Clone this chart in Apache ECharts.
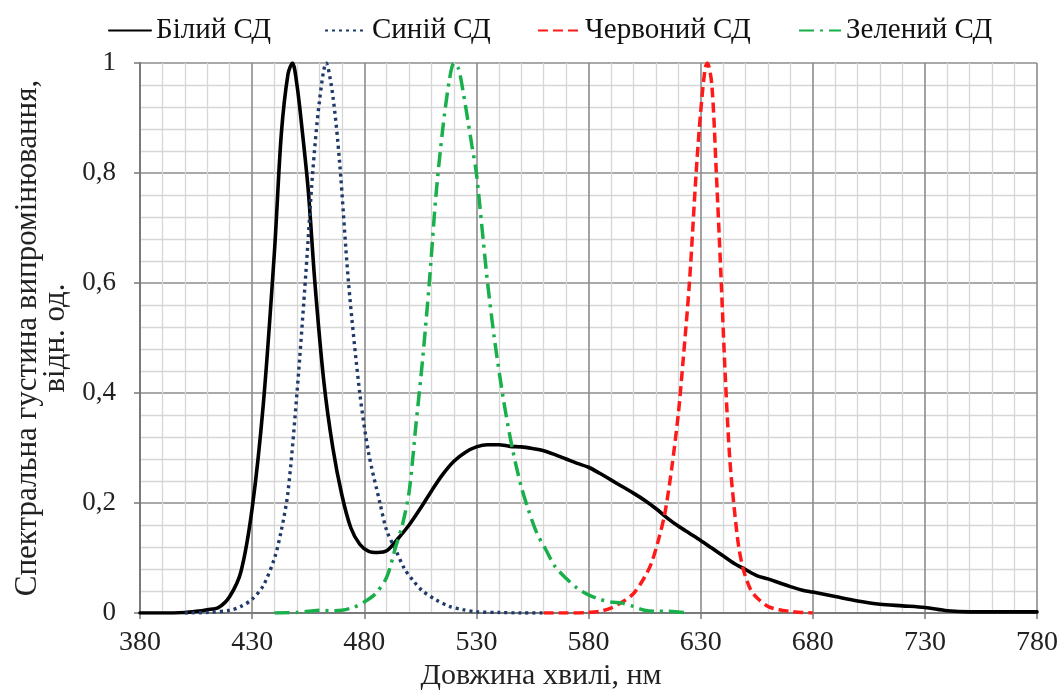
<!DOCTYPE html>
<html>
<head>
<meta charset="utf-8">
<style>
  html, body { margin: 0; padding: 0; background: #fff; }
  #chart { width: 1061px; height: 691px; }
</style>
<script src="https://cdn.jsdelivr.net/npm/echarts@6/dist/echarts.min.js"></script>
</head>
<body>
<div id="chart"></div>
<script>
// Spectral power density of LEDs, relative units, vs wavelength (nm)
const seriesNames = ['Білий СД', 'Синій СД', 'Червоний СД', 'Зелений СД'];

const whiteNm = [380, 390, 400, 405, 410, 415, 420, 425, 430, 435, 440, 443, 446, 448, 450, 452, 455, 458, 462, 466, 470, 474, 478, 482, 486, 490, 495, 500, 505, 510, 515, 520, 525, 530, 535, 540, 545, 550, 555, 560, 565, 570, 575, 580, 585, 590, 595, 600, 605, 610, 615, 620, 625, 630, 635, 640, 645, 650, 655, 660, 665, 670, 675, 680, 690, 700, 710, 720, 730, 740, 750, 760, 770, 780];
const whiteVal = [0, 0, 0.001, 0.003, 0.006, 0.01, 0.03, 0.075, 0.19, 0.38, 0.66, 0.87, 0.98, 1.0, 0.96, 0.89, 0.77, 0.6, 0.42, 0.3, 0.215, 0.155, 0.125, 0.112, 0.11, 0.113, 0.135, 0.16, 0.19, 0.222, 0.252, 0.276, 0.292, 0.302, 0.306, 0.306, 0.303, 0.302, 0.299, 0.295, 0.288, 0.28, 0.272, 0.265, 0.254, 0.242, 0.23, 0.218, 0.205, 0.19, 0.173, 0.158, 0.145, 0.132, 0.118, 0.104, 0.09, 0.079, 0.068, 0.062, 0.055, 0.048, 0.042, 0.038, 0.03, 0.022, 0.016, 0.013, 0.01, 0.004, 0.002, 0.002, 0.002, 0.002];

const blueNm = [400, 410, 420, 425, 430, 435, 440, 443, 446, 450, 454, 457, 460, 463, 466, 469, 473, 478, 482, 487, 490, 494, 498, 502, 506, 512, 518, 524, 530, 540, 550, 560];
const blueVal = [0, 0.001, 0.005, 0.012, 0.025, 0.05, 0.1, 0.15, 0.22, 0.4, 0.62, 0.8, 0.93, 1.0, 0.94, 0.82, 0.6, 0.4, 0.29, 0.2, 0.15, 0.115, 0.08, 0.058, 0.04, 0.024, 0.012, 0.006, 0.002, 0.001, 0, 0];

const redNm = [560, 570, 580, 585, 590, 595, 600, 605, 608, 611, 614, 617, 620, 622, 625, 628, 630, 632, 633, 635, 637, 639, 641, 643, 645, 647, 649, 652, 655, 660, 665, 670, 675, 680];
const redVal = [0, 0, 0.001, 0.003, 0.009, 0.02, 0.035, 0.065, 0.09, 0.13, 0.18, 0.26, 0.36, 0.45, 0.6, 0.8, 0.91, 0.99, 1.0, 0.96, 0.8, 0.62, 0.43, 0.28, 0.19, 0.12, 0.08, 0.045, 0.028, 0.012, 0.006, 0.003, 0.001, 0];

const greenNm = [440, 450, 455, 460, 465, 470, 475, 480, 485, 490, 494, 497, 500, 503, 506, 509, 512, 515, 518, 520, 522, 524, 528, 530, 533, 535, 538, 542, 546, 550, 553, 557, 561, 565, 570, 575, 580, 585, 590, 595, 600, 605, 610, 615, 620, 625];
const greenVal = [0, 0.001, 0.003, 0.005, 0.004, 0.005, 0.01, 0.02, 0.035, 0.065, 0.12, 0.16, 0.22, 0.34, 0.46, 0.6, 0.76, 0.88, 0.97, 1.0, 0.99, 0.95, 0.85, 0.8, 0.68, 0.6, 0.5, 0.39, 0.3, 0.23, 0.19, 0.145, 0.115, 0.085, 0.063, 0.045, 0.033, 0.025, 0.02, 0.018, 0.012, 0.005, 0.003, 0.003, 0.002, 0];

const xTitle = 'Довжина хвилі, нм';
const yTitle = 'Спектральна густина випромінювання,\nвідн. од.';

const pairs = (xs, ys) => xs.map((x, i) => [x, ys[i]]);
const FONT = '"Liberation Serif", "Times New Roman", serif';

const chart = echarts.init(document.getElementById('chart'), null, { renderer: 'canvas' });

function lineSeries(name, xs, ys, color, width, dash, cap) {
  return {
    name: name,
    type: 'line',
    data: pairs(xs, ys),
    symbol: 'none',
    showSymbol: false,
    smooth: 0.3,
    clip: true,
    lineStyle: { color: color, width: width, type: dash, cap: cap || 'butt' },
    itemStyle: { color: color },
    emphasis: { disabled: true },
    animation: false
  };
}

// one legend block per series so each entry sits at its own spot in the header
const legendLefts = [103, 319, 532, 793];
const legends = seriesNames.map((name, i) => ({
  top: 11,
  left: legendLefts[i],
  itemWidth: 42,
  itemHeight: 14,
  selectedMode: false,
  itemStyle: { color: 'rgba(0,0,0,0)', borderWidth: 0, opacity: 0 },
  textStyle: { fontFamily: FONT, fontSize: 29, color: '#111' },
  data: [name]
}));

chart.setOption({
  backgroundColor: '#ffffff',
  animation: false,
  textStyle: { fontFamily: FONT },
  legend: legends,
  grid: { left: 140, right: 21, top: 63, bottom: 78, containLabel: false },
  xAxis: {
    type: 'value',
    min: 380,
    max: 780,
    interval: 50,
    axisLine: { show: true, onZero: false, lineStyle: { color: '#7a7a7a', width: 2 } },
    axisTick: { show: true, inside: false, length: 6, lineStyle: { color: '#7a7a7a', width: 1.5 } },
    minorTick: { show: false, splitNumber: 5 },
    axisLabel: { fontFamily: FONT, fontSize: 28, color: '#222', margin: 16 },
    splitLine: { show: true, lineStyle: { color: '#8c8c8c', width: 1.6 } },
    minorSplitLine: { show: true, lineStyle: { color: '#d6d6d6', width: 1.3 } }
  },
  yAxis: {
    type: 'value',
    min: 0,
    max: 1,
    interval: 0.2,
    name: yTitle,
    nameLocation: 'middle',
    nameRotate: 90,
    nameGap: 67,
    nameTextStyle: { fontFamily: FONT, fontSize: 31, color: '#222', lineHeight: 28, align: 'center' },
    axisLine: { show: true, lineStyle: { color: '#7a7a7a', width: 2 } },
    axisTick: { show: true, inside: false, length: 6, lineStyle: { color: '#7a7a7a', width: 1.5 } },
    minorTick: { show: false, splitNumber: 5 },
    axisLabel: {
      fontFamily: FONT, fontSize: 27, color: '#222', margin: 24,
      formatter: v => String(Math.round(v * 10) / 10).replace('.', ',')
    },
    splitLine: { show: true, lineStyle: { color: '#8c8c8c', width: 1.6 } },
    minorSplitLine: { show: true, lineStyle: { color: '#d6d6d6', width: 1.3 } }
  },
  graphic: [{
    type: 'text',
    x: 541,
    y: 676,
    style: {
      text: xTitle,
      font: '30px ' + FONT,
      fill: '#222',
      textAlign: 'center',
      textVerticalAlign: 'middle'
    }
  }],
  series: [
    lineSeries(seriesNames[0], whiteNm, whiteVal, '#000000', 3.6, 'solid', 'round'),
    lineSeries(seriesNames[1], blueNm, blueVal, '#1f3a68', 3.4, [3, 4]),
    lineSeries(seriesNames[2], redNm, redVal, '#ff1a1a', 3.5, [10, 5]),
    lineSeries(seriesNames[3], greenNm, greenVal, '#19b04b', 3.5, [15, 6, 3, 6])
  ]
});
</script>
</body>
</html>
